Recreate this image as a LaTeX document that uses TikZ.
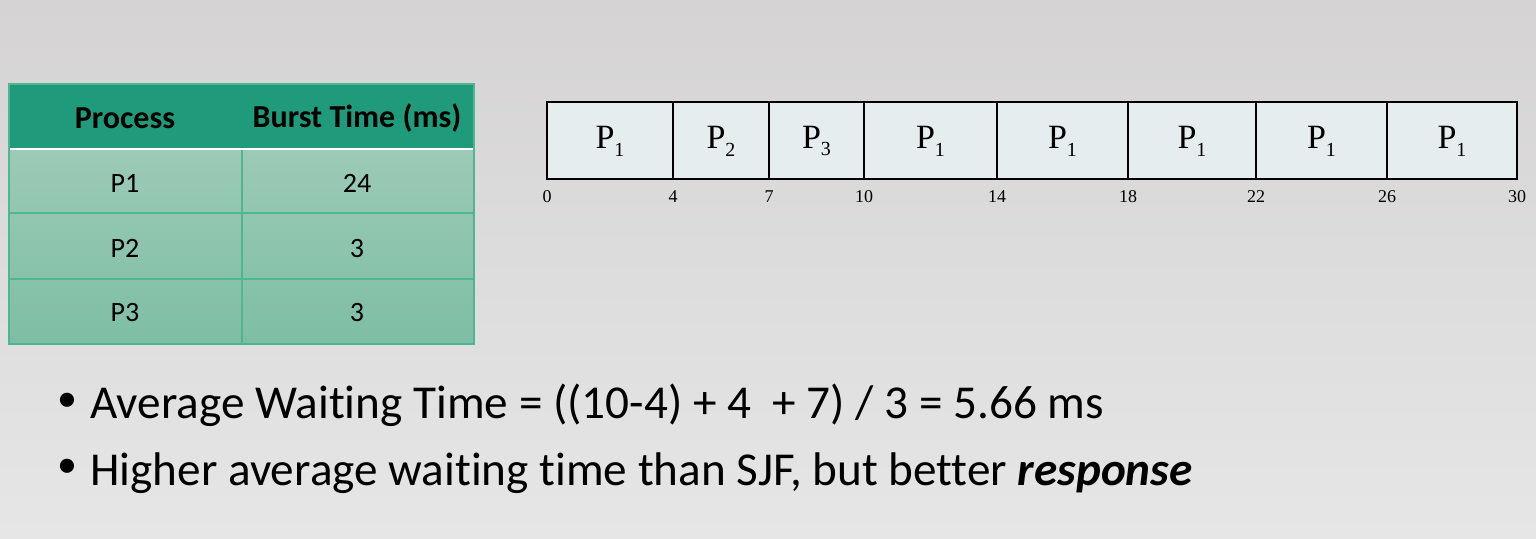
\documentclass[tikz,border=0pt]{standalone}
\usepackage{fontspec}
\setmainfont{Carlito}[Ligatures=NoCommon]
\newfontfamily\ganttfont{Liberation Serif}
\definecolor{bgtop}{HTML}{D5D3D4}
\definecolor{bgbot}{HTML}{E6E6E6}
\definecolor{hdr}{HTML}{1F9A7A}
\definecolor{rowa}{HTML}{9CCAB7}
\definecolor{rowb}{HTML}{7EBEA5}
\definecolor{tline}{HTML}{4DB890}
\definecolor{gfill}{HTML}{E6EDEE}
\newcommand{\gsub}[1]{\raisebox{-0.5ex}{\fontsize{10}{11}\selectfont #1}}
\tikzset{
  hdrtext/.style={font=\fontsize{16}{18}\selectfont\bfseries, text=black, anchor=center},
  celltext/.style={font=\fontsize{14}{16}\selectfont, text=black, anchor=center},
  gbox/.style={draw=black, line width=0.6pt, fill=gfill},
  glabel/.style={font=\ganttfont\fontsize{17}{18}\selectfont, anchor=center},
  gtick/.style={font=\ganttfont\fontsize{9}{10}\selectfont, anchor=center},
  bullettext/.style={font=\fontsize{23.6}{27}\selectfont, anchor=base west, inner sep=0pt},
  bulletdot/.style={font=\fontsize{20}{24}\selectfont, anchor=center, inner sep=0pt},
}
\begin{document}
\begin{tikzpicture}[x=0.5pt,y=-0.5pt]
\useasboundingbox (0,0) rectangle (1536,538);
\shade[top color=bgtop, bottom color=bgbot] (0,0) rectangle (1536,538);

% table
\fill[hdr] (9,84) rectangle (474,149);
\shade[top color=rowa, bottom color=rowb] (9,149) rectangle (474,344);
\draw[tline, line width=0.6pt] (9,213) -- (474,213) (9,279) -- (474,279) (242,149) -- (242,344);
\draw[white, line width=1.2pt] (9,149) -- (474,149);
\draw[tline, line width=1pt] (9,84) rectangle (474,344);
\node[hdrtext] (h1) at (125,118) {Process};
\node[hdrtext] (h2) at (357,118) {Burst Time (ms)};
\node[celltext] (r1a) at (125,183) {P1};
\node[celltext] (r1b) at (357,183) {24};
\node[celltext] (r2a) at (125,248) {P2};
\node[celltext] (r2b) at (357,248) {3};
\node[celltext] (r3a) at (125,312) {P3};
\node[celltext] (r3b) at (357,312) {3};

% gantt
\foreach \a/\b/\s [count=\i] in {547/673/1,673/769/2,769/864/3,864/997/1,997/1128/1,1128/1256/1,1256/1387/1,1387/1517/1}{
  \draw[gbox] (\a,102) rectangle (\b,179);
  \node[glabel] (g\i) at ({(\a+\b)/2},141) {P\gsub{\s}};
}
\foreach \x/\t [count=\i] in {547/0,673/4,769/7,864/10,997/14,1128/18,1256/22,1387/26,1517/30}{
  \node[gtick] (t\i) at (\x,197) {\t};
}

% bullets
\node[bulletdot] (d1) at (67,402) {\textbullet};
\node[bullettext] (b1) at (90,418) {Average Waiting Time = ((10-4) + 4\ \ + 7) / 3 = 5.66 ms};
\node[bulletdot] (d2) at (67,468) {\textbullet};
\node[bullettext] (b2) at (90,485) {Higher average waiting time than SJF, but better \textbf{\textit{response}}};
\end{tikzpicture}
\end{document}
